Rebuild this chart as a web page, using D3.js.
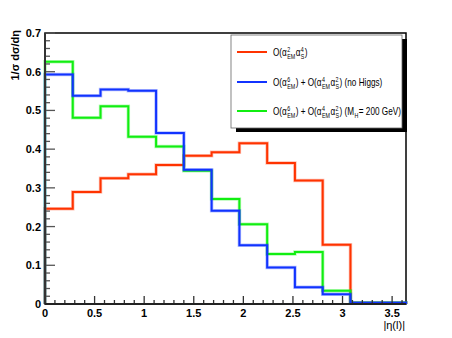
<!DOCTYPE html>
<html>
<head>
<meta charset="utf-8">
<script src="https://cdn.jsdelivr.net/npm/d3@7"></script>
<style>
  body { margin: 0; background: #fff; }
  text { font-family: "Liberation Sans", Arial, sans-serif; }
</style>
</head>
<body>
<div id="chart"></div>
<script>
// bins of |eta(l)|, width 0.28
const binEdges = [0, 0.28, 0.56, 0.84, 1.12, 1.4, 1.68, 1.96, 2.24, 2.52, 2.8, 3.08, 3.36, 3.64];
// 1/sigma dsigma/deta per bin
const qcdValues = [0.246, 0.289, 0.325, 0.335, 0.359, 0.383, 0.392, 0.415, 0.364, 0.319, 0.153, 0.002, 0.002];
const noHiggsValues = [0.593, 0.538, 0.554, 0.551, 0.442, 0.347, 0.241, 0.152, 0.094, 0.043, 0.025, 0.003, 0.003];
const higgsValues = [0.626, 0.481, 0.511, 0.432, 0.407, 0.344, 0.271, 0.206, 0.129, 0.134, 0.034, 0.003, 0.003];
const xTicks = [0, 0.5, 1, 1.5, 2, 2.5, 3, 3.5];
const yTicks = [0, 0.1, 0.2, 0.3, 0.4, 0.5, 0.6, 0.7];

const width = 452, height = 338;
const margin = { top: 33, right: 46, bottom: 34, left: 45 };

const svg = d3.select('#chart').append('svg')
  .attr('width', width)
  .attr('height', height);

const x = d3.scaleLinear().domain([0, 3.64]).range([margin.left, width - margin.right]);
const y = d3.scaleLinear().domain([0, 0.7]).range([height - margin.bottom, margin.top]);

// frame
svg.append('rect')
  .attr('x', x(0)).attr('y', y(0.7))
  .attr('width', x(3.64) - x(0)).attr('height', y(0) - y(0.7))
  .attr('fill', 'none').attr('stroke', '#000').attr('stroke-width', 1.5);

// histograms as steps
function stepPath(values) {
  const p = d3.path();
  p.moveTo(x(binEdges[0]), y(0));
  values.forEach((v, i) => {
    p.lineTo(x(binEdges[i]), y(v));
    p.lineTo(x(binEdges[i + 1]), y(v));
  });
  p.lineTo(x(binEdges[binEdges.length - 1]), y(0));
  return p.toString();
}

const series = [
  { values: qcdValues, color: '#ff3300' },
  { values: higgsValues, color: '#11ee11' },
  { values: noHiggsValues, color: '#1133ff' }
];

series.forEach(s => {
  svg.append('path')
    .attr('d', stepPath(s.values))
    .attr('fill', 'none')
    .attr('stroke', s.color)
    .attr('stroke-opacity', 0.3)
    .attr('stroke-width', 3.5);
  svg.append('path')
    .attr('d', stepPath(s.values))
    .attr('fill', 'none')
    .attr('stroke', s.color)
    .attr('stroke-width', 2);
});

// y axis: ticks drawn inward
const yAxis = svg.append('g');
d3.range(0, 36).forEach(i => {
  const v = i * 0.02;
  const major = i % 5 === 0;
  yAxis.append('line')
    .attr('x1', x(0)).attr('x2', x(0) + (major ? 10 : 5))
    .attr('y1', y(v)).attr('y2', y(v))
    .attr('stroke', '#555').attr('stroke-width', 1.3);
});
yAxis.append('line')
  .attr('x1', x(0)).attr('x2', x(0))
  .attr('y1', y(0)).attr('y2', y(0.7))
  .attr('stroke', '#333').attr('stroke-width', 2);
yAxis.selectAll('text.ytick')
  .data(yTicks)
  .join('text')
  .attr('class', 'ytick')
  .attr('x', x(0) - 4)
  .attr('y', d => y(d) + 4)
  .attr('text-anchor', 'end')
  .style('font-size', '11px')
  .style('font-weight', 'bold')
  .text(d => d3.format('.1f')(d).replace(/^0\.0$/, '0'));

// x axis: ticks drawn upward
const xAxis = svg.append('g');
d3.range(0, 37).forEach(i => {
  const v = i * 0.1;
  const major = i % 5 === 0;
  xAxis.append('line')
    .attr('x1', x(v)).attr('x2', x(v))
    .attr('y1', y(0)).attr('y2', y(0) - (major ? 8 : 4))
    .attr('stroke', '#333').attr('stroke-width', 1.3);
});
xAxis.append('line')
  .attr('x1', x(0)).attr('x2', x(3.64))
  .attr('y1', y(0)).attr('y2', y(0))
  .attr('stroke', '#222').attr('stroke-width', 2);
xAxis.selectAll('text.xtick')
  .data(xTicks)
  .join('text')
  .attr('class', 'xtick')
  .attr('x', d => x(d))
  .attr('y', y(0) + 13)
  .attr('text-anchor', 'middle')
  .style('font-size', '11px')
  .style('font-weight', 'bold')
  .text(d => d);

// axis titles
svg.append('text')
  .attr('x', x(3.64) - 1)
  .attr('y', 329)
  .attr('text-anchor', 'end')
  .style('font-size', '11px')
  .text('|η(l)|');

svg.append('text')
  .attr('transform', `translate(19, 30) rotate(-90)`)
  .attr('text-anchor', 'end')
  .style('font-size', '11px')
  .style('font-weight', 'bold')
  .text('1/σ dσ/dη');

// legend
const lx = 231, ly = 35, lw = 171, lh = 93;
const legend = svg.append('g');
legend.append('rect')
  .attr('x', lx + 5).attr('y', ly + 4)
  .attr('width', lw).attr('height', lh)
  .attr('fill', '#000');
legend.append('rect')
  .attr('x', lx).attr('y', ly)
  .attr('width', lw).attr('height', lh)
  .attr('fill', '#fff').attr('stroke', '#666').attr('stroke-width', 0.8);

// label pieces: plain text, or stacked super/subscript
const legendLabels = [
  [{ t: 'O(α' }, { sup: '2', sub: 'EM' }, { t: 'α' }, { sup: '4', sub: 'S' }, { t: ')' }],
  [{ t: 'O(α' }, { sup: '6', sub: 'EM' }, { t: ') + O(α' }, { sup: '4', sub: 'EM' }, { t: 'α' }, { sup: '2', sub: 'S' }, { t: ') (no Higgs)' }],
  [{ t: 'O(α' }, { sup: '6', sub: 'EM' }, { t: ') + O(α' }, { sup: '4', sub: 'EM' }, { t: 'α' }, { sup: '2', sub: 'S' }, { t: ') (M' }, { sub: 'H' }, { t: ' = 200 GeV)' }]
];
const legendColors = ['#ff3300', '#1133ff', '#11ee11'];
const legendY = [52, 82, 111];
const textStart = 273, textEnd = 401;

const labelGroups = [];
let widest = 0;
legendLabels.forEach((pieces, i) => {
  const yy = legendY[i];
  legend.append('line')
    .attr('x1', 237).attr('x2', 267)
    .attr('y1', yy).attr('y2', yy)
    .attr('stroke', legendColors[i]).attr('stroke-width', 2);
  const g = legend.append('g');
  labelGroups.push(g);
  let cx = 0;
  const base = yy + 4;
  pieces.forEach(p => {
    if (p.t !== undefined) {
      const t = g.append('text')
        .attr('x', cx).attr('y', base)
        .style('font-size', '10px')
        .text(p.t);
      cx += t.node().getComputedTextLength();
    } else {
      let w = 0;
      if (p.sup) {
        const s = g.append('text')
          .attr('x', cx + 0.5).attr('y', base - 4)
          .style('font-size', '6.5px')
          .text(p.sup);
        w = Math.max(w, s.node().getComputedTextLength());
      }
      if (p.sub) {
        const s = g.append('text')
          .attr('x', cx + 0.5).attr('y', base + 3)
          .style('font-size', '6.5px')
          .text(p.sub);
        w = Math.max(w, s.node().getComputedTextLength());
      }
      cx += w + 1;
    }
  });
  widest = Math.max(widest, cx);
});
// squeeze labels horizontally so the longest fits in the box
const sx = Math.min(1, (textEnd - textStart) / widest);
labelGroups.forEach(g => g.attr('transform', `translate(${textStart},0) scale(${sx},1)`));
</script>
</body>
</html>
